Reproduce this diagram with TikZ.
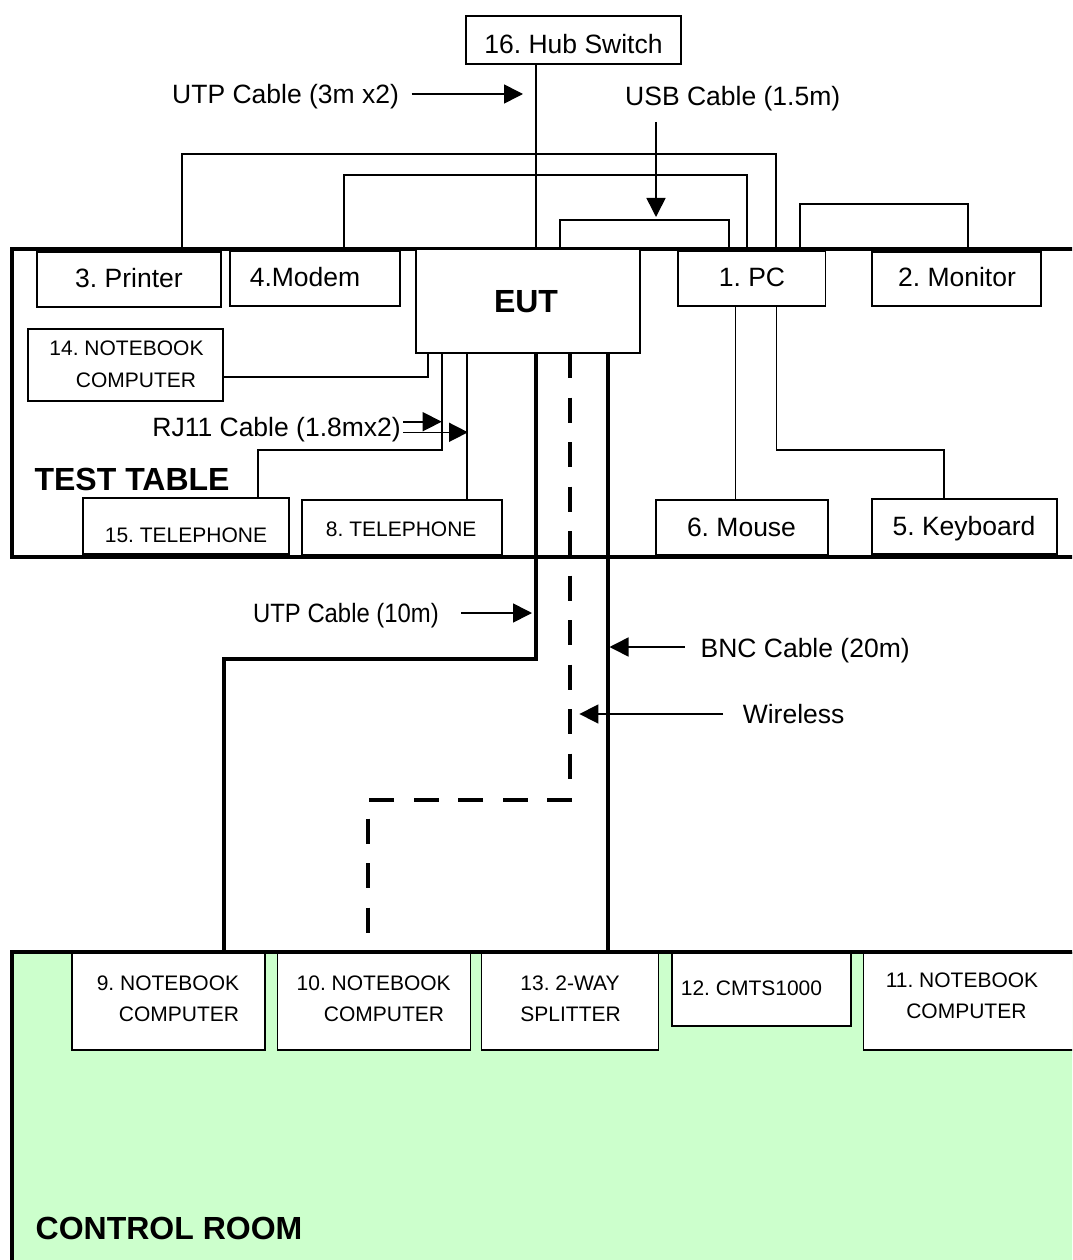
\documentclass[tikz,border=0pt]{standalone}
\usepackage{fontspec}
\usepackage{graphicx}
\setmainfont{Liberation Sans}
\usetikzlibrary{arrows.meta}
\definecolor{roomgreen}{HTML}{CCFFCC}
\newcommand{\fbig}{\fontsize{26.5}{30}\selectfont}
\newcommand{\fsml}{\fontsize{21}{25}\selectfont}
\newcommand{\fhead}{\fontsize{32}{36}\selectfont\bfseries}
\begin{document}
\frenchspacing
\begin{tikzpicture}[x=1pt,y=-1pt,
  box/.style={draw, line width=1.8pt, fill=white, inner sep=0pt, outer sep=0pt, anchor=north west},
  room/.style={draw, line width=3.6pt, inner sep=0pt, outer sep=0pt, anchor=north west},
  wire/.style={line width=1.6pt},
  cable/.style={line width=3.1pt},
  wless/.style={line width=3.1pt, dash pattern=on 25pt off 19.5pt},
  arr/.style={line width=1.6pt, -{Triangle[length=19pt,width=19pt]}},
  big/.style={inner sep=0pt, font=\fbig, anchor=base},
  sml/.style={inner sep=0pt, font=\fsml, anchor=base},
  head/.style={inner sep=0pt, font=\fhead, anchor=base west}
]
\useasboundingbox (0,0) rectangle (1072,1260);
\clip (0,0) rectangle (1072,1260);
\fill[white] (0,0) rectangle (1072,1260);

% rooms
\node[room, minimum width=1078pt, minimum height=308pt] (table) at (12,249) {};
\node[room, fill=roomgreen, minimum width=1078pt, minimum height=323pt] (control) at (12,952) {};

% routing coordinates
\coordinate (hubx) at (536,150);
\coordinate (pr1) at (182,154);
\coordinate (pr2) at (776,154);
\coordinate (md1) at (344,175);
\coordinate (md2) at (747,175);
\coordinate (us1) at (560,220);
\coordinate (us2) at (729,220);
\coordinate (mo1) at (800,204);
\coordinate (mo2) at (968,204);
\coordinate (nb1) at (428,377);
\coordinate (tf1) at (442,450);
\coordinate (tf2) at (258,450);
\coordinate (t8x) at (466.7,450);
\coordinate (msx) at (735.5,400);
\coordinate (kb1) at (776.5,450);
\coordinate (kb2) at (944,450);
\coordinate (ut1) at (536,659);
\coordinate (ut2) at (224,659);
\coordinate (bnx) at (608,700);
\coordinate (wl1) at (570,800);
\coordinate (wl2) at (368,800);
\coordinate (wl3) at (368,938);

% boxes on the test table
\node[box, minimum width=215pt, minimum height=48pt] (hub) at (466,16) {};
\node[box, minimum width=184pt, minimum height=55pt] (printer) at (37,252) {};
\node[box, minimum width=170pt, minimum height=55pt] (modem) at (230,251) {};
\node[box, minimum width=224pt, minimum height=104pt] (eut) at (416,249) {};
\node[box, minimum width=147.5pt, minimum height=55pt] (pc) at (678,251) {};
\node[box, minimum width=169pt, minimum height=54pt] (monitor) at (872,252) {};
\node[box, minimum width=195pt, minimum height=72pt] (nb14) at (28,329) {};
\node[box, minimum width=206pt, minimum height=56pt] (tel15) at (83,498) {};
\node[box, minimum width=200pt, minimum height=55pt] (tel8) at (302,500) {};
\node[box, minimum width=172pt, minimum height=55pt] (mouse) at (656,500) {};
\node[box, minimum width=185pt, minimum height=55pt] (keyboard) at (872,499) {};

% boxes in the control room
\node[box, minimum width=193pt, minimum height=97pt] (nb9) at (72,953) {};
\node[box, minimum width=193pt, minimum height=97pt] (nb10) at (277.5,953) {};
\node[box, minimum width=177pt, minimum height=97pt] (split) at (481.5,953) {};
\node[box, minimum width=179pt, minimum height=73pt] (cmts) at (672,953) {};
\node[box, minimum width=240pt, minimum height=97pt] (nb11) at (863.5,953) {};

% thin cables
\draw[wire] (hub.south -| hubx) -- (eut.north -| hubx);
\draw[wire] (printer.north -| pr1) -- (pr1) -- (pr2) -- (pc.north -| pr2);
\draw[wire] (modem.north -| md1) -- (md1) -- (md2) -- (pc.north -| md2);
\draw[wire] ([yshift=2pt]eut.north -| us1) -- (us1) -- (us2) -- ([yshift=4pt]pc.north -| us2);
\draw[wire] (pc.north -| mo1) -- (mo1) -- (mo2) -- (monitor.north -| mo2);
\draw[wire] (nb14.east |- nb1) -- (nb1) -- (eut.south -| nb1);
\draw[wire] (tel15.north -| tf2) -- (tf2) -- (tf1) -- (eut.south -| tf1);
\draw[wire] (eut.south -| t8x) -- (tel8.north -| t8x);
\draw[wire] (pc.south -| msx) -- (mouse.north -| msx);
\draw[wire] (pc.south -| kb1) -- (kb1) -- (kb2) -- (keyboard.north -| kb2);

% long cables
\draw[cable] (eut.south -| ut1) -- (ut1) -- (ut2) -- (nb9.north -| ut2);
\draw[cable] (eut.south -| bnx) -- (split.north -| bnx);
\draw[wless] (eut.south -| wl1) -- (wl1) -- (wl2) -- (wl3);

% pointer arrows
\coordinate (a1s) at (411.5,94);   \coordinate (a1e) at (523,94);
\coordinate (a2s) at (656,122);    \coordinate (a2e) at (656,217);
\coordinate (a3s) at (403,421.7);  \coordinate (a3e) at (441.7,421.7);
\coordinate (a4s) at (403,432.3);  \coordinate (a4e) at (468,432.3);
\coordinate (a5s) at (461.4,613);  \coordinate (a5e) at (532,613);
\coordinate (a6s) at (684.5,647);  \coordinate (a6e) at (609.5,647);
\coordinate (a7s) at (723,714);    \coordinate (a7e) at (579.4,714);
\draw[arr] (a1s) -- (a1e);
\draw[arr] (a2s) -- (a2e);
\draw[arr] (a3s) -- (a3e);
\draw[arr] (a4s) -- (a4e);
\draw[arr] (a5s) -- (a5e);
\draw[arr] (a6s) -- (a6e);
\draw[arr] (a7s) -- (a7e);

% box texts
\node[big] (thub) at (573.5,54) {16. Hub Switch};
\node[big] (tprinter) at (129,287) {3. Printer};
\node[big] (tmodem) at (305,286.7) {4.Modem};
\node[inner sep=0pt, font=\fhead, anchor=base] (teut) at (526,312.3) {EUT};
\node[big] (tpc) at (752,286.7) {1. PC};
\node[big] (tmonitor) at (957,286) {2. Monitor};
\node[sml] (tnb14a) at (126.5,355.7) {14. NOTEBOOK};
\node[sml] (tnb14b) at (136,387.3) {COMPUTER};
\node[sml] (ttel15) at (186,542) {15. TELEPHONE};
\node[sml] (ttel8) at (401.2,536) {8. TELEPHONE};
\node[big] (tmouse) at (741.5,536) {6. Mouse};
\node[big] (tkeyboard) at (964,535) {5. Keyboard};
\node[sml] (tnb9a) at (168,990) {9. NOTEBOOK};
\node[sml] (tnb9b) at (179,1021) {COMPUTER};
\node[sml] (tnb10a) at (373.7,990) {10. NOTEBOOK};
\node[sml] (tnb10b) at (384,1021) {COMPUTER};
\node[sml] (tsplita) at (570,990) {13. 2-WAY};
\node[sml] (tsplitb) at (570.6,1021) {SPLITTER};
\node[sml] (tcmts) at (751.5,995) {12. CMTS1000};
\node[sml] (tnb11a) at (962,987.3) {11. NOTEBOOK};
\node[sml] (tnb11b) at (966.4,1018.3) {COMPUTER};

% labels
\node[head] (ttable) at (34.4,490) {TEST TABLE};
\node[head] (tcontrol) at (35.5,1239) {CONTROL ROOM};
\node[big, anchor=base west] (lutp3) at (172,104) {UTP Cable (3m x2)};
\node[big, anchor=base west] (lusb) at (625,106) {USB Cable (1.5m)};
\node[big, anchor=base east] (lrj) at (401,436.5) {RJ11 Cable (1.8mx2)};
\node[big, anchor=base west] (lutp10) at (253,622) {\scalebox{0.9}[1]{UTP Cable (10m)}};
\node[big, anchor=base west] (lbnc) at (700.4,657) {BNC Cable (20m)};
\node[big, anchor=base west] (lwl) at (742.6,723) {Wireless};
\end{tikzpicture}
\end{document}
